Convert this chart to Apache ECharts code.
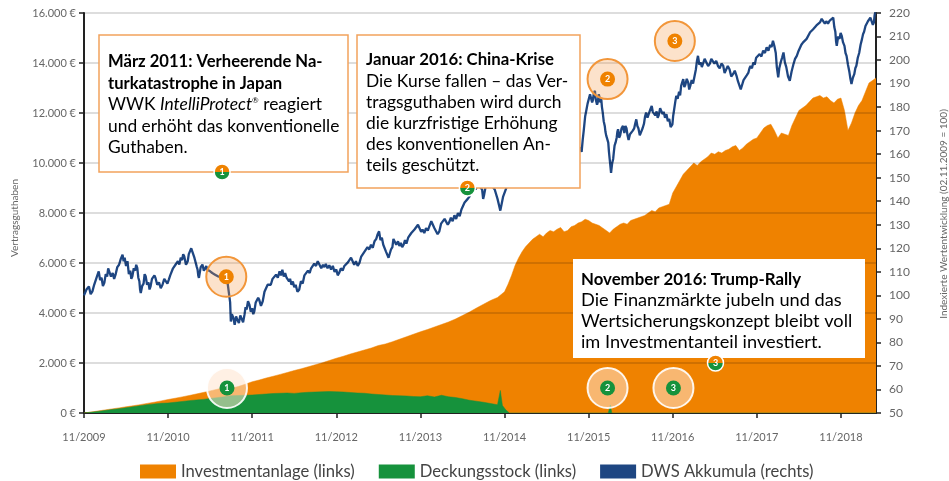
<!DOCTYPE html>
<html>
<head>
<meta charset="utf-8">
<script src="https://cdn.jsdelivr.net/npm/echarts@6/dist/echarts.min.js"></script>
<style>
  html, body { margin: 0; padding: 0; background: #fff; }
  #chart { width: 949px; height: 481px; }
</style>
</head>
<body>
<div id="chart"></div>
<script>
// x = Monate seit 11/2009
const yearTicks = ['11/2009', '11/2010', '11/2011', '11/2012', '11/2013', '11/2014', '11/2015', '11/2016', '11/2017', '11/2018'];
const leftTicks = [2000, 4000, 6000, 8000, 10000, 12000, 14000, 16000];

// Investmentanlage (links), Euro
const investment = [
  [0,0],[1,40],[2,80],[3,125],[4,165],[5,205],[6,250],[7,290],[8,335],[9,385],[10,430],[11,485],
  [12,540],[13,590],[14,645],[15,700],[16,760],[17,820],[18,885],[19,950],[20,1020],[21,990],[22,1060],[23,1150],
  [24,1250],[25,1320],[26,1400],[27,1470],[28,1545],[29,1620],[30,1700],[31,1770],[32,1850],[33,1930],[34,2010],[35,2100],
  [36,2190],[37,2270],[38,2360],[39,2440],[40,2520],[41,2600],[42,2700],[43,2760],[44,2850],[45,2950],[46,3050],[47,3150],
  [48,3250],[49,3340],[50,3440],[51,3540],[52,3640],[53,3760],[54,3900],[55,4040],[56,4200],[57,4350],[58,4500],[59,4620],
  [60,4850],[60.5,5150],[61,5500],[61.5,5900],[62,6200],[62.5,6450],[63,6650],[63.5,6800],[64,6950],[64.5,7050],[65,7150],[65.5,7050],
  [66,7200],[66.5,7300],[67,7250],[67.5,7350],[68,7420],[68.5,7250],[69,7300],[69.5,7450],[70,7500],[70.5,7600],[71,7650],[71.5,7750],
  [72,7700],[72.5,7600],[73,7550],[73.5,7500],[74,7400],[74.5,7300],[75,7200],[75.5,7350],[76,7450],[76.5,7550],[77,7600],[77.5,7550],
  [78,7700],[78.5,7750],[79,7800],[79.5,7850],[80,7900],[80.5,8000],[81,8100],[81.5,8050],[82,8200],[82.5,8250],[83,8300],[83.5,8350],
  [84,8800],[84.5,9050],[85,9300],[85.5,9550],[86,9700],[86.5,9850],[87,10000],[87.5,9900],[88,10050],[88.5,10150],[89,10250],[89.5,10400],
  [90,10350],[90.5,10450],[91,10400],[91.5,10500],[92,10550],[92.5,10650],[93,10700],[93.5,10500],[94,10600],[94.5,10750],[95,10850],[95.5,10950],
  [96,11000],[96.5,11200],[97,11400],[97.5,11500],[98,11550],[98.5,11300],[99,11000],[99.5,11200],[100,11150],[100.5,11100],[101,11500],[101.5,11800],
  [102,12100],[102.5,12200],[103,12300],[103.5,12450],[104,12600],[104.5,12650],[105,12700],[105.5,12600],[106,12650],[106.5,12500],[107,12400],[107.5,12550],
  [108,12600],[108.5,12100],[109,11300],[109.5,11600],[110,12000],[110.5,12300],[111,12500],[111.5,12850],[112,13200],[112.5,13300],[113,13400]
];

// Deckungsstock (links), Euro
const deckungsstock = [
  [0,0],[1,30],[2,65],[3,100],[4,140],[5,175],[6,210],[7,250],[8,295],[9,335],[10,365],[11,390],
  [12,400],[13,430],[14,460],[15,495],[16,520],[17,545],[18,580],[19,615],[20,650],[21,690],[22,700],[23,710],
  [24,720],[25,740],[26,760],[27,780],[28,790],[29,800],[30,785],[31,810],[32,830],[33,840],[34,850],[35,860],
  [36,850],[37,840],[38,820],[39,800],[40,790],[41,760],[42,740],[43,720],[44,700],[45,690],[46,680],[47,660],
  [48,650],[49,690],[50,640],[51,710],[52,650],[53,620],[54,570],[55,510],[56,470],[57,430],[58,380],[59,330],
  [59.4,900],[59.7,300],[60.2,120],[60.7,0],[74.8,0],[75.1,320],[75.3,0],[113,0]
];

// DWS Akkumula (rechts), Index 02.11.2009 = 100
const dwsAkkumula = [
  [0,100],[0.35,102.5],[0.7,103.8],[0.95,100.5],[1.2,101.7],[1.45,104.5],[1.7,105],[1.9,108.5],[2.1,110.2],[2.3,106.5],
  [2.5,107.5],[2.7,104],[2.9,105.3],[3.1,109],[3.3,108],[3.45,111.5],[3.6,110.9],[3.85,108],[4.1,109.5],[4.3,107],
  [4.5,108.8],[4.75,112],[5.0,113],[5.25,115.5],[5.5,117.3],[5.65,114.5],[5.8,116],[6.0,112.5],[6.2,114.5],[6.4,109],
  [6.6,110.5],[6.75,107],[6.9,108.1],[7.1,111.5],[7.3,110.5],[7.45,113],[7.6,111.7],[7.75,107.5],[7.9,106],[8.0,102.5],
  [8.1,101.0],[8.3,104],[8.5,105],[8.65,109],[8.8,108.1],[9.0,104.5],[9.2,105.5],[9.35,102.5],[9.5,103.8],[9.7,107],
  [9.9,106.5],[10.05,108.5],[10.2,107.4],[10.45,104.5],[10.7,105.5],[10.95,103],[11.2,104.5],[11.45,107],[11.7,106.2],[11.9,105],
  [12.1,106.7],[12.3,108.5],[12.5,109],[12.7,111.5],[12.9,110.9],[13.05,113],[13.2,112.5],[13.4,114.5],[13.6,113.1],[13.8,116],
  [14.0,115],[14.15,117.5],[14.3,116.6],[14.55,113],[14.8,114.5],[14.95,117.5],[15.1,117],[15.3,120],[15.5,119.4],[15.75,116],
  [16.0,115.9],[16.1,112],[16.2,111],[16.3,108.5],[16.4,107.4],[16.65,112],[16.9,113.1],[17.1,110.5],[17.3,111.5],[17.45,112.5],
  [17.6,110.9],[17.8,111.5],[18.0,110.2],[18.15,111],[18.3,109.5],[18.5,110],[18.7,108.8],[18.9,109.5],[19.1,108.1],[19.3,108.5],
  [19.5,107.8],[19.65,108.5],[19.8,107.4],[20.05,107],[20.3,106.5],[20.5,105],[20.7,104.5],[20.85,97],[20.95,88.9],[21.1,92],
  [21.3,90.5],[21.5,87.5],[21.7,91.0],[21.9,89.5],[22.1,88.2],[22.3,91.5],[22.5,90],[22.7,88.5],[22.9,91.8],[23.05,95],
  [23.2,94],[23.4,97.5],[23.6,96.0],[23.8,93],[24.0,94.5],[24.15,92],[24.3,93.2],[24.5,97],[24.7,96.5],[24.85,99],
  [25.0,98.1],[25.25,95.5],[25.5,97.5],[25.75,101.5],[26.0,102],[26.2,104.5],[26.4,105.3],[26.65,104.5],[26.9,107],[27.15,106.5],
  [27.4,108.8],[27.65,107.5],[27.9,110.2],[28.1,108.5],[28.3,110.9],[28.5,108],[28.7,109.5],[28.9,107.5],[29.1,108.3],[29.25,106],
  [29.4,107],[29.6,104.5],[29.8,105.9],[30.0,103.5],[30.2,104.5],[30.45,101.5],[30.7,102.4],[30.95,106],[31.2,105],[31.45,108.5],
  [31.7,108.1],[31.95,110.5],[32.2,109.5],[32.4,111.5],[32.6,110.9],[32.85,113.5],[33.1,112.5],[33.35,114.5],[33.6,113.8],[33.85,111.5],
  [34.1,113],[34.3,112],[34.5,113.3],[34.75,111.5],[35.0,112.8],[35.25,111],[35.5,112.5],[35.75,110],[36.0,111],[36.2,108.5],
  [36.4,109.5],[36.65,111.5],[36.9,110.5],[37.15,112.5],[37.4,111.7],[37.65,114],[37.9,113.5],[38.1,116],[38.3,115.2],[38.55,113],
  [38.8,114.5],[39.05,112.5],[39.3,113.8],[39.55,116.5],[39.8,116],[40.0,118.5],[40.2,118.0],[40.45,120.5],[40.7,119.5],[40.95,121.5],
  [41.2,120.2],[41.45,123],[41.7,124],[41.9,126],[42.1,127.2],[42.3,123.5],[42.5,124.5],[42.7,121.5],[42.9,122.3],[43.1,118.5],
  [43.3,119],[43.45,116],[43.6,116.6],[43.8,119.5],[44.0,120.5],[44.15,124],[44.3,123.7],[44.55,121.5],[44.8,123],[45.0,121],
  [45.2,122.3],[45.4,120.5],[45.6,121.5],[45.8,123.5],[46.0,122],[46.25,124.5],[46.5,124],[46.7,126.5],[46.9,125.8],[47.15,128],
  [47.4,127.5],[47.65,130],[47.9,129.4],[48.1,127],[48.3,128],[48.55,126.5],[48.8,128.6],[49.05,127.5],[49.3,129.5],[49.55,131.5],
  [49.8,130.8],[50.0,128.5],[50.2,129],[50.45,126],[50.7,127.2],[50.95,130.5],[51.2,130],[51.45,132.5],[51.7,132.2],[51.9,130],
  [52.1,131],[52.35,133],[52.6,131.5],[52.85,134],[53.1,132.5],[53.35,135],[53.6,133.6],[53.85,136.5],[54.1,136],[54.3,139.5],
  [54.5,139.3],[54.75,141],[55.0,142],[55.25,145],[55.5,144.3],[55.7,146],[55.9,145],[56.15,147.5],[56.4,146.4],[56.6,147],
  [56.8,145],[56.95,141],[57.1,142.9],[57.35,147],[57.6,149.3],[58.1,147],[58.6,145],[59.0,141],[59.4,136],[59.8,142],
  [60.3,146],[60.8,148],[61.3,150],[61.8,156],[62.3,160],[62.8,165],[63.3,170],[63.8,174],[64.3,178],[64.8,181],
  [65.3,176],[65.8,172],[66.3,174],[66.8,169],[67.3,170],[67.8,172],[68.3,168],[68.8,158],[69.3,154],[69.8,158],
  [70.3,160],[70.7,163],[71.0,161],[71.15,166],[71.3,170],[71.5,176],[71.7,179.1],[71.85,181.5],[72.0,182],[72.2,185.5],
  [72.4,184.8],[72.5,182],[72.6,183],[72.75,186],[72.9,186.9],[73.0,183.5],[73.1,184],[73.2,181],[73.3,182.0],[73.45,185.5],
  [73.6,185],[73.7,182],[73.8,183.4],[73.9,180],[74.0,178],[74.15,174],[74.3,172.0],[74.4,169.5],[74.5,168],[74.65,166.5],
  [74.8,164.9],[74.9,161],[75.0,158],[75.1,155],[75.2,152.1],[75.35,156],[75.5,158],[75.6,161],[75.7,163.6],[75.85,165],
  [76.0,167],[76.1,169.5],[76.2,170.6],[76.35,167],[76.5,168],[76.7,171],[76.9,172.0],[77.1,169],[77.25,172],[77.4,171],
  [77.55,168],[77.7,166],[77.9,168.5],[78.1,167.7],[78.3,170],[78.5,171],[78.65,173],[78.8,174.8],[78.95,172],[79.1,171],
  [79.3,168],[79.5,167.7],[79.7,171],[79.9,173],[80.05,176],[80.2,177.7],[80.4,175.5],[80.6,176],[80.8,179],[81.0,180.5],
  [81.15,178],[81.3,178.5],[81.5,176.5],[81.7,178.2],[81.85,175.5],[82.0,176.5],[82.2,179.5],[82.4,180],[82.55,177],[82.7,178],
  [82.9,175.5],[83.1,177.0],[83.3,174],[83.5,175],[83.7,171.5],[83.95,172.7],[84.05,176],[84.2,179],[84.35,182],[84.5,184.8],
  [84.7,183.5],[84.9,186.5],[85.05,185],[85.2,189],[85.35,190.5],[85.5,191.9],[85.65,188.5],[85.8,189.5],[86.0,192],[86.2,190.5],
  [86.35,187.5],[86.5,189],[86.7,191.5],[86.9,190],[87.1,193],[87.3,196],[87.45,199.5],[87.6,201.8],[87.8,198],[88.0,199],
  [88.15,197],[88.3,198.3],[88.55,200.5],[88.8,199.8],[89.05,197.5],[89.3,198.5],[89.5,200.5],[89.7,201],[89.95,198.5],[90.2,199.7],
  [90.45,197.5],[90.7,196.5],[90.95,198.5],[91.2,197.6],[91.4,194.5],[91.6,195],[91.85,197.5],[92.1,196.1],[92.35,193],[92.6,194],
  [92.85,195.5],[93.1,193.3],[93.3,191],[93.5,190.5],[93.7,187.5],[93.95,188.3],[94.1,191.5],[94.3,191],[94.55,193.5],[94.8,194.7],
  [94.95,196.5],[95.1,197.5],[95.3,196.5],[95.5,199.0],[95.7,198],[95.9,201],[96.15,200.5],[96.4,202.5],[96.65,201.5],[96.9,204],
  [97.15,203],[97.4,205.4],[97.65,204],[97.9,206.5],[98.1,205.5],[98.3,208.2],[98.5,206],[98.7,203],[98.85,197],[99.05,192.6],
  [99.2,196.5],[99.4,199],[99.6,201],[99.8,203.2],[100.0,199],[100.2,197],[100.45,193],[100.7,191.2],[100.95,195],[101.2,198],
  [101.45,200.5],[101.7,201.8],[101.9,203.5],[102.1,204],[102.35,206.5],[102.6,207.5],[102.85,207],[103.1,209],[103.35,209.5],[103.6,211.8],
  [103.8,212],[104.0,213],[104.25,212.5],[104.5,214.7],[104.75,214],[105.0,216],[105.25,217.5],[105.5,218.3],[105.7,215.5],[105.9,216.5],
  [106.15,215.5],[106.4,216.8],[106.65,217.5],[106.9,218],[107.05,214],[107.2,212],[107.3,208],[107.4,206.1],[107.6,210],[107.8,209],
  [107.95,211.5],[108.1,210.4],[108.3,207.5],[108.5,206],[108.65,203],[108.8,201.8],[109.0,198],[109.2,195],[109.35,192],[109.5,189.8],
  [109.7,192.5],[109.9,194],[110.05,196.5],[110.2,197.6],[110.4,201],[110.6,203],[110.8,206.5],[111.0,208.9],[111.15,211],[111.3,212],
  [111.5,214.5],[111.7,214.7],[111.85,216.5],[112.0,216],[112.2,218],[112.4,217.5],[112.55,215],[112.7,216],[112.8,219],[112.9,220.3]
];

// Ereignis-Marker: [Monat, Wert, Nummer]
const eventMarksIndex = [[20.3, 107.9, '1'], [74.7, 191.9, '2'], [84.3, 208.1, '3']];
const eventMarksGuthaben = [[20.4, 1000, '1'], [74.7, 1000, '2'], [84.1, 1000, '3']];
const boxMarks = [[19.7, 9640, '1'], [54.7, 9000, '2'], [90.1, 2000, '3']];

const ORANGE = '#ef8200';
const GREEN = '#16923c';
const BLUE = '#1e4682';
const FONT = 'Lato';

const myChart = echarts.init(document.getElementById('chart'));

function boxRich(bSize, nSize, lh) {
  return {
    b: {fontFamily: FONT, fontSize: bSize, fontWeight: 'bold', color: '#1e1e1e', lineHeight: lh},
    n: {fontFamily: FONT, fontSize: nSize, color: '#3c3c3c', lineHeight: lh},
    i: {fontFamily: FONT, fontSize: nSize, fontStyle: 'italic', color: '#3c3c3c', lineHeight: lh},
    s: {fontFamily: FONT, fontSize: 8, color: '#3c3c3c', lineHeight: lh, padding: [0, 0, 9, 0]}
  };
}

const numLabel = {
  show: true,
  position: 'inside',
  formatter: p => p.value[2],
  color: '#fff',
  fontSize: 9,
  fontWeight: 'bold',
  fontFamily: FONT
};

let option = {
  backgroundColor: '#fff',
  animation: false,
  grid: {left: 84, right: 73, top: 13, bottom: 68},
  legend: {
    left: 135,
    top: 458,
    icon: 'rect',
    itemWidth: 36,
    itemHeight: 14,
    itemGap: 24,
    textStyle: {fontFamily: FONT, fontSize: 16.6, color: '#444'},
    data: ['Investmentanlage (links)', 'Deckungsstock (links)', 'DWS Akkumula (rechts)']
  },
  xAxis: {
    type: 'value',
    min: 0,
    max: 113,
    interval: 12,
    axisLine: {lineStyle: {color: '#222', width: 2}},
    axisTick: {length: 5, lineStyle: {color: '#222', width: 1.5}},
    axisLabel: {
      margin: 19,
      fontFamily: FONT,
      fontSize: 11,
      color: '#666',
      showMaxLabel: false,
      formatter: v => (v % 12 === 0 ? yearTicks[v / 12] : '')
    },
    splitLine: {show: false}
  },
  yAxis: [
    {
      type: 'value',
      min: 0,
      max: 16000,
      interval: 2000,
      axisLine: {show: true, lineStyle: {color: '#222', width: 2}},
      axisTick: {show: true, length: 5, lineStyle: {color: '#222', width: 1.5}},
      axisLabel: {
        margin: 8,
        fontFamily: FONT,
        fontSize: 11,
        color: '#666',
        formatter: v => (v === 0 ? '0 €' : (v / 1000) + '.000 €')
      },
      splitLine: {show: false}
    },
    {
      type: 'value',
      min: 50,
      max: 220,
      interval: 10,
      position: 'right',
      axisLine: {show: true, lineStyle: {color: '#222', width: 2}},
      axisTick: {show: true, length: 5, lineStyle: {color: '#222', width: 1.5}},
      axisLabel: {margin: 13, fontFamily: FONT, fontSize: 12, color: '#666'},
      splitLine: {show: false}
    }
  ],
  series: [
    {
      name: 'Investmentanlage (links)',
      type: 'line',
      yAxisIndex: 0,
      data: investment,
      showSymbol: false,
      itemStyle: {color: ORANGE},
      lineStyle: {color: ORANGE, width: 0.5},
      areaStyle: {color: ORANGE, opacity: 1},
      z: 2
    },
    {
      name: 'Deckungsstock (links)',
      type: 'line',
      yAxisIndex: 0,
      data: deckungsstock,
      showSymbol: false,
      itemStyle: {color: GREEN},
      lineStyle: {color: GREEN, width: 0.5},
      areaStyle: {color: GREEN, opacity: 1},
      z: 3,
      markLine: {
        silent: true,
        symbol: 'none',
        label: {show: false},
        lineStyle: {color: 'rgba(0,0,0,0.18)', width: 1.5, type: 'solid'},
        data: leftTicks.map(v => ({yAxis: v}))
      }
    },
    {
      name: 'DWS Akkumula (rechts)',
      type: 'line',
      yAxisIndex: 1,
      data: dwsAkkumula,
      showSymbol: false,
      itemStyle: {color: BLUE},
      lineStyle: {color: BLUE, width: 2.3},
      z: 4
    },
    {
      type: 'scatter',
      yAxisIndex: 1,
      data: eventMarksIndex,
      symbolSize: 40,
      itemStyle: {color: 'rgba(243,150,70,0.28)', borderColor: '#f2963a', borderWidth: 2, opacity: 1},
      z: 60
    },
    {
      type: 'scatter',
      yAxisIndex: 1,
      data: eventMarksIndex,
      symbolSize: 15,
      itemStyle: {color: ORANGE, opacity: 1},
      label: numLabel,
      z: 61
    },
    {
      type: 'scatter',
      yAxisIndex: 0,
      data: eventMarksGuthaben,
      symbolSize: 40,
      itemStyle: {color: 'rgba(255,228,205,0.55)', borderColor: 'rgba(255,255,255,0.9)', borderWidth: 2, opacity: 1},
      z: 60
    },
    {
      type: 'scatter',
      yAxisIndex: 0,
      data: eventMarksGuthaben,
      symbolSize: 15,
      itemStyle: {color: GREEN, opacity: 1},
      label: numLabel,
      z: 61
    },
    {
      type: 'scatter',
      yAxisIndex: 0,
      data: boxMarks,
      symbolSize: 16,
      itemStyle: {
        opacity: 1,
        color: {
          type: 'linear', x: 0, y: 0, x2: 0, y2: 1,
          colorStops: [
            {offset: 0, color: ORANGE}, {offset: 0.5, color: ORANGE},
            {offset: 0.5, color: GREEN}, {offset: 1, color: GREEN}
          ]
        },
        borderColor: '#fff',
        borderWidth: 1.5
      },
      label: numLabel,
      z: 62
    }
  ],
  graphic: [
    {
      type: 'text', x: 15, y: 218, rotation: Math.PI / 2, z: 50,
      style: {text: 'Vertragsguthaben', fill: '#666', font: '10px Lato', align: 'center', verticalAlign: 'middle'}
    },
    {
      type: 'text', x: 944, y: 214, rotation: Math.PI / 2, z: 50,
      style: {text: 'Indexierte Wertentwicklung (02.11.2009 = 100)', fill: '#666', font: '10px Lato', align: 'center', verticalAlign: 'middle'}
    },
    {
      type: 'rect', z: 50,
      shape: {x: 99, y: 35, width: 249, height: 137},
      style: {fill: '#fff', stroke: '#f2a35c', lineWidth: 1.5}
    },
    {
      type: 'text', x: 108, y: 51, z: 51,
      style: {
        text: '{b|März 2011: Verheerende Na-}\n{b|turkatastrophe in Japan}\n{n|WWK }{i|IntelliProtect}{s|®}{n| reagiert}\n{n|und erhöht das konventionelle}\n{n|Guthaben.}',
        rich: boxRich(16.6, 17.4, 21.5), verticalAlign: 'top', align: 'left'
      }
    },
    {
      type: 'rect', z: 50,
      shape: {x: 357, y: 35, width: 223, height: 153},
      style: {fill: '#fff', stroke: '#f2a35c', lineWidth: 1.5}
    },
    {
      type: 'text', x: 366, y: 49.5, z: 51,
      style: {
        text: '{b|Januar 2016: China-Krise}\n{n|Die Kurse fallen – das Ver-}\n{n|tragsguthaben wird durch}\n{n|die kurzfristige Erhöhung}\n{n|des konventionellen An-}\n{n|teils geschützt.}',
        rich: boxRich(16.8, 17.4, 21), verticalAlign: 'top', align: 'left'
      }
    },
    {
      type: 'rect', z: 50,
      shape: {x: 573, y: 259, width: 292, height: 99},
      style: {fill: '#fff'}
    },
    {
      type: 'text', x: 581, y: 269, z: 51,
      style: {
        text: '{b|November 2016: Trump-Rally}\n{n|Die Finanzmärkte jubeln und das}\n{n|Wertsicherungskonzept bleibt voll}\n{n|im Investmentanteil investiert.}',
        rich: boxRich(16.8, 18.2, 20.8), verticalAlign: 'top', align: 'left'
      }
    }
  ]
};

myChart.setOption(option);
window.addEventListener('resize', () => myChart.resize());
</script>
</body>
</html>
